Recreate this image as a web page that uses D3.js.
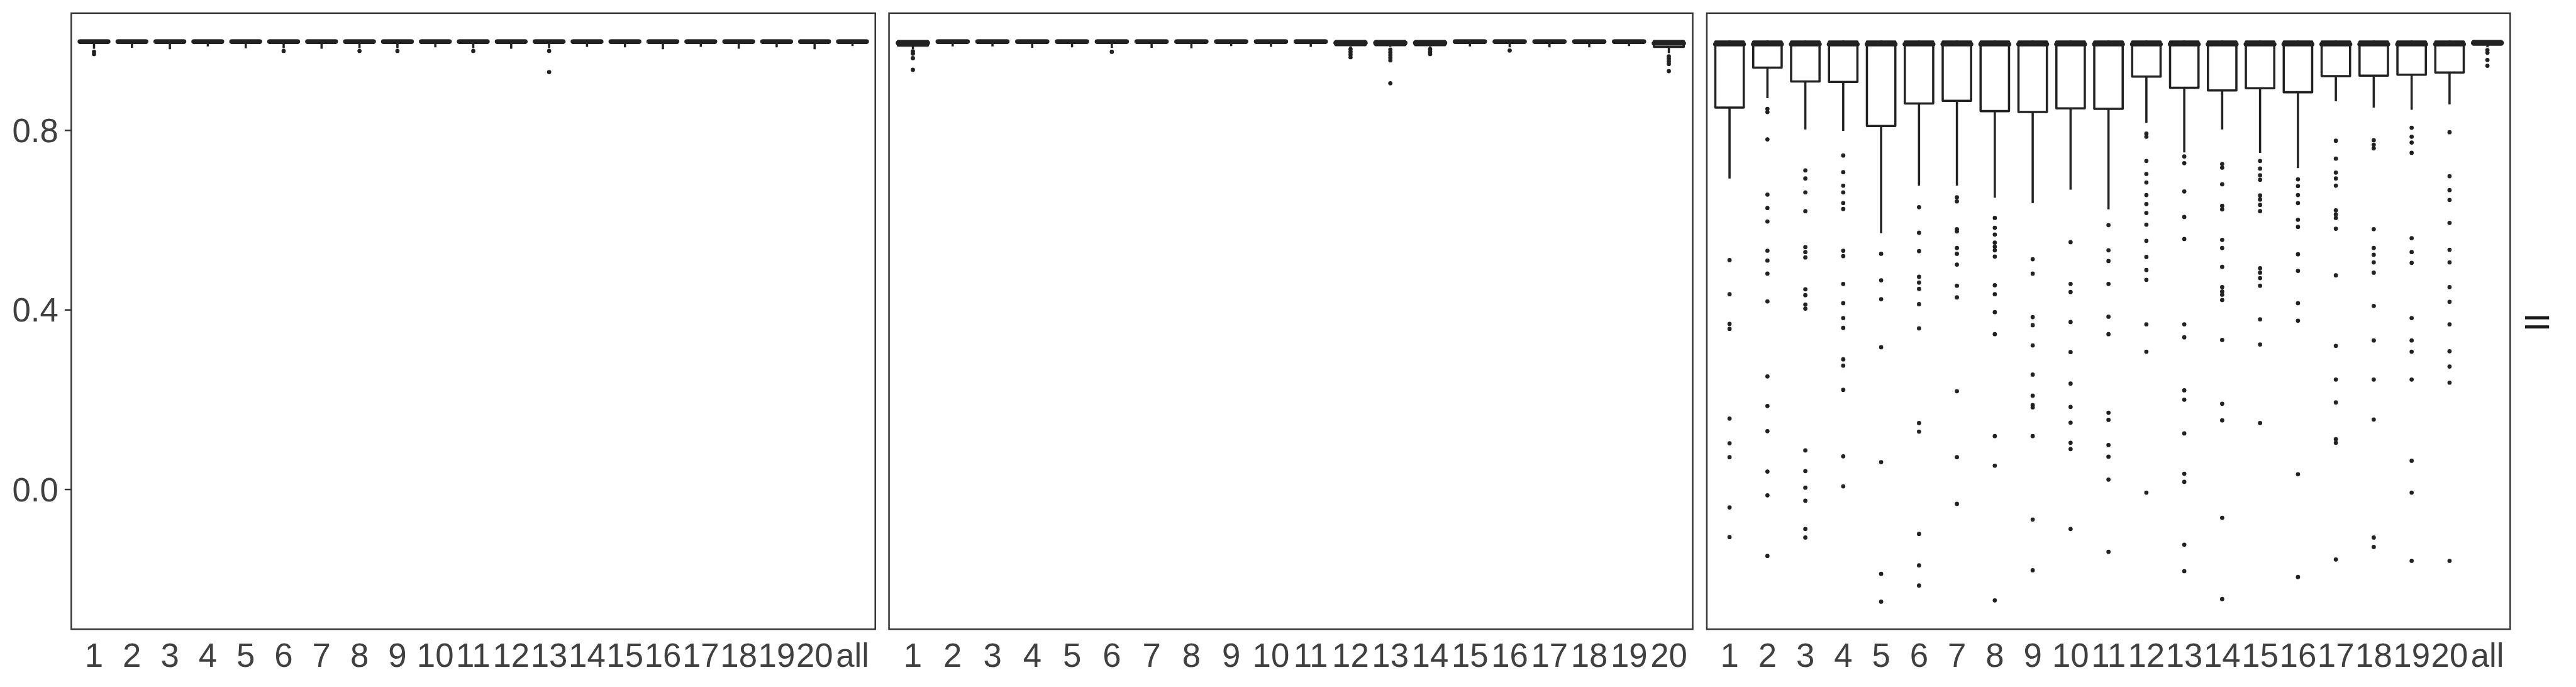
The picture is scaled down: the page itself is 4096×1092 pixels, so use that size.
<!DOCTYPE html>
<html>
<head>
<meta charset="utf-8">
<script src="https://cdn.jsdelivr.net/npm/d3@7"></script>
<style>
  html, body { margin: 0; padding: 0; background: #ffffff; }
  svg { display: block; }
</style>
</head>
<body>
<div id="chart"></div>
<script>
// ---------------- DATA ----------------
const categoriesA = ["1","2","3","4","5","6","7","8","9","10","11","12","13","14","15","16","17","18","19","20","all"];
const categoriesB = ["1","2","3","4","5","6","7","8","9","10","11","12","13","14","15","16","17","18","19","20"];
const yTicks = [0.0, 0.4, 0.8];
const yTickLabels = ["0.0", "0.4", "0.8"];

// Panel 1
const p1Q3     = [1.000,1.000,1.000,1.000,1.000,1.000,1.000,1.000,1.000,1.000,1.000,1.000,1.000,1.000,1.000,1.000,1.000,1.000,1.000,1.000,1.000];
const p1Median = [0.998,0.998,0.998,0.998,0.998,0.998,0.998,0.998,0.998,0.998,0.998,0.998,0.998,0.998,0.998,0.998,0.998,0.998,0.998,0.998,0.998];
const p1Q1     = [0.995,0.995,0.995,0.995,0.995,0.995,0.995,0.995,0.995,0.995,0.995,0.995,0.995,0.995,0.995,0.995,0.995,0.995,0.995,0.995,0.995];
const p1Lower  = [0.982,0.984,0.981,0.987,0.983,0.983,0.982,0.983,0.983,0.985,0.983,0.982,0.983,0.986,0.985,0.981,0.986,0.982,0.985,0.981,0.988];
const p1Upper  = [1.000,1.000,1.000,1.000,1.000,1.000,1.000,1.000,1.000,1.000,1.000,1.000,1.000,1.000,1.000,1.000,1.000,1.000,1.000,1.000,1.000];
const p1Outliers = [[0.975,0.970],[],[],[],[],[0.977],[],[0.977],[0.977],[],[0.977],[],[0.977,0.930],[],[],[],[],[],[],[],[]];

// Panel 2
const p2Q3     = [0.999,1.000,1.000,1.000,1.000,1.000,1.000,1.000,1.000,1.000,1.000,0.999,0.999,0.999,1.000,1.000,1.000,1.000,1.000,0.999];
const p2Median = [0.995,0.998,0.998,0.998,0.998,0.998,0.998,0.998,0.998,0.998,0.998,0.995,0.995,0.995,0.998,0.998,0.998,0.998,0.998,0.994];
const p2Q1     = [0.989,0.995,0.995,0.995,0.995,0.995,0.995,0.995,0.995,0.995,0.995,0.990,0.990,0.990,0.995,0.995,0.995,0.995,0.995,0.986];
const p2Lower  = [0.981,0.987,0.987,0.984,0.985,0.984,0.984,0.983,0.988,0.986,0.986,0.986,0.986,0.986,0.987,0.985,0.985,0.985,0.988,0.972];
const p2Upper  = [1.000,1.000,1.000,1.000,1.000,1.000,1.000,1.000,1.000,1.000,1.000,1.000,1.000,1.000,1.000,1.000,1.000,1.000,1.000,1.000];
const p2Outliers = [[0.976,0.971,0.961,0.935],[],[],[],[],[0.975],[],[],[],[],[],[0.981,0.975,0.969,0.963],[0.980,0.974,0.968,0.962,0.956,0.905],[0.981,0.975,0.970],[],[0.978],[],[],[],[0.965,0.960,0.954,0.948,0.932]];

// Panel 3
const p3Q3     = [0.998,0.998,0.998,0.998,0.998,0.998,0.998,0.998,0.998,0.998,0.998,0.998,0.998,0.998,0.998,0.998,0.998,0.998,0.998,0.998,0.999];
const p3Median = [0.992,0.992,0.992,0.992,0.992,0.992,0.992,0.992,0.992,0.992,0.992,0.992,0.992,0.992,0.992,0.992,0.992,0.992,0.992,0.992,0.995];
const p3Q1     = [0.851,0.940,0.909,0.908,0.810,0.860,0.866,0.843,0.841,0.849,0.848,0.920,0.895,0.889,0.894,0.885,0.921,0.922,0.924,0.929,0.991];
const p3Lower  = [0.693,0.872,0.802,0.799,0.571,0.677,0.677,0.650,0.638,0.668,0.624,0.817,0.751,0.802,0.750,0.716,0.865,0.851,0.846,0.858,0.985];
const p3Upper  = [1.000,1.000,1.000,1.000,1.000,1.000,1.000,1.000,1.000,1.000,1.000,1.000,1.000,1.000,1.000,1.000,1.000,1.000,1.000,1.000,1.000];
const p3Outliers = [
  [0.511,0.435,0.369,0.358,0.158,0.103,0.072,-0.040,-0.106],
  [0.848,0.841,0.780,0.657,0.627,0.597,0.532,0.510,0.481,0.419,0.252,0.186,0.130,0.040,-0.013,-0.148],
  [0.711,0.693,0.662,0.620,0.540,0.529,0.517,0.446,0.433,0.412,0.403,0.087,0.041,0.004,-0.025,-0.088,-0.107],
  [0.744,0.707,0.677,0.662,0.638,0.625,0.532,0.520,0.458,0.415,0.382,0.360,0.290,0.276,0.222,0.074,0.007],
  [0.525,0.466,0.424,0.317,0.061,-0.188,-0.250],
  [0.629,0.572,0.531,0.474,0.461,0.447,0.413,0.359,0.148,0.129,-0.099,-0.169,-0.214],
  [0.651,0.642,0.580,0.575,0.538,0.525,0.501,0.454,0.428,0.219,0.072,-0.032],
  [0.605,0.583,0.568,0.550,0.541,0.533,0.519,0.455,0.435,0.395,0.346,0.119,0.053,-0.247],
  [0.513,0.481,0.384,0.366,0.321,0.256,0.209,0.188,0.183,0.119,-0.067,-0.180],
  [0.551,0.458,0.440,0.373,0.306,0.236,0.184,0.149,0.104,0.090,-0.088],
  [0.589,0.533,0.509,0.458,0.385,0.346,0.171,0.155,0.099,0.073,0.022,-0.139],
  [0.793,0.786,0.732,0.703,0.684,0.656,0.636,0.616,0.590,0.554,0.518,0.489,0.467,0.368,0.307,-0.007],
  [0.742,0.727,0.664,0.607,0.558,0.368,0.339,0.221,0.200,0.125,0.035,0.017,-0.123,-0.182],
  [0.725,0.717,0.680,0.632,0.624,0.556,0.538,0.496,0.451,0.441,0.434,0.422,0.333,0.191,0.154,-0.063,-0.244],
  [0.732,0.715,0.700,0.690,0.655,0.646,0.634,0.620,0.493,0.483,0.471,0.454,0.379,0.323,0.148],
  [0.691,0.676,0.656,0.638,0.601,0.585,0.524,0.487,0.415,0.376,0.034,-0.195],
  [0.777,0.737,0.706,0.693,0.677,0.622,0.613,0.605,0.581,0.477,0.320,0.245,0.194,0.112,0.104,-0.156],
  [0.778,0.768,0.760,0.580,0.538,0.523,0.506,0.483,0.409,0.332,0.245,0.156,-0.107,-0.128],
  [0.806,0.786,0.773,0.750,0.560,0.529,0.505,0.382,0.332,0.307,0.245,0.064,-0.007,-0.159],
  [0.796,0.698,0.667,0.645,0.594,0.534,0.506,0.451,0.418,0.368,0.308,0.274,0.238,-0.159],
  [0.979,0.973,0.957,0.944]
];

// ---------------- LAYOUT (reference pixel space 4500x1200, scaled by viewBox) ----------------
const W = 4500, H = 1200;
const panelTop = 23, panelBottom = 1099;
const panelX = [[124.5, 1529], [1553, 2957], [2981.6, 4385]];
const fontFamily = "'Liberation Sans', Arial, Helvetica, sans-serif";
const fontSize = 58;
const textColor = "#404040";
const lineColor = "#222222";
const lw = 3.9;

const svg = d3.select("#chart").append("svg")
  .attr("width", 4096).attr("height", 1092)
  .attr("viewBox", `0 0 ${W} ${H}`)
  .attr("preserveAspectRatio", "none");

svg.append("rect").attr("width", W).attr("height", H).attr("fill", "#ffffff");

const y = d3.scaleLinear().domain([-0.3112, 1.0612]).range([panelBottom, panelTop]);

const panels = [
  { cats: categoriesA, q1: p1Q1, med: p1Median, q3: p1Q3, lo: p1Lower, hi: p1Upper, out: p1Outliers },
  { cats: categoriesB, q1: p2Q1, med: p2Median, q3: p2Q3, lo: p2Lower, hi: p2Upper, out: p2Outliers },
  { cats: categoriesA, q1: p3Q1, med: p3Median, q3: p3Q3, lo: p3Lower, hi: p3Upper, out: p3Outliers }
];

panels.forEach((p, pi) => {
  const [x0, x1] = panelX[pi];
  const x = d3.scalePoint().domain(p.cats).range([x0, x1]).padding(0.6);
  const bw = x.step() * 0.75;
  const g = svg.append("g");

  const clipId = "clip" + pi;
  svg.append("clipPath").attr("id", clipId).append("rect")
    .attr("x", x0).attr("y", panelTop).attr("width", x1 - x0).attr("height", panelBottom - panelTop);
  const inner = g.append("g").attr("clip-path", `url(#${clipId})`);

  const rows = p.cats.map((c, i) => ({ c, q1: p.q1[i], med: p.med[i], q3: p.q3[i], lo: p.lo[i], hi: p.hi[i], out: p.out[i] }));

  // outliers
  rows.forEach(r => {
    inner.selectAll(null).data(r.out).enter().append("circle")
      .attr("cx", x(r.c)).attr("cy", d => y(d)).attr("r", 3.7)
      .attr("fill", lineColor);
  });

  // whiskers
  inner.selectAll(".wlo").data(rows).enter().append("line")
    .attr("x1", d => x(d.c)).attr("x2", d => x(d.c))
    .attr("y1", d => y(d.q1)).attr("y2", d => y(d.lo))
    .attr("stroke", lineColor).attr("stroke-width", lw);
  inner.selectAll(".whi").data(rows).enter().append("line")
    .attr("x1", d => x(d.c)).attr("x2", d => x(d.c))
    .attr("y1", d => y(d.q3)).attr("y2", d => y(d.hi))
    .attr("stroke", lineColor).attr("stroke-width", lw);

  // boxes
  inner.selectAll(".box").data(rows).enter().append("rect")
    .attr("x", d => x(d.c) - bw / 2).attr("width", bw)
    .attr("y", d => y(d.q3)).attr("height", d => Math.max(0, y(d.q1) - y(d.q3)))
    .attr("fill", "#ffffff").attr("stroke", lineColor).attr("stroke-width", lw)
    .attr("stroke-linejoin", "round");

  // medians
  inner.selectAll(".med").data(rows).enter().append("line")
    .attr("x1", d => x(d.c) - bw / 2).attr("x2", d => x(d.c) + bw / 2)
    .attr("y1", d => y(d.med)).attr("y2", d => y(d.med))
    .attr("stroke", lineColor).attr("stroke-width", lw * 2).attr("stroke-linecap", "round");

  // panel border
  g.append("rect").attr("x", x0).attr("y", panelTop)
    .attr("width", x1 - x0).attr("height", panelBottom - panelTop)
    .attr("fill", "none").attr("stroke", "#333333").attr("stroke-width", 2.7);

  // x labels
  g.selectAll(".xl").data(p.cats).enter().append("text")
    .attr("x", d => x(d)).attr("y", 1165)
    .attr("text-anchor", "middle")
    .attr("font-family", fontFamily).attr("font-size", fontSize)
    .attr("fill", textColor)
    .text(d => d);
});

// y axis (left panel only)
const yAxisG = svg.append("g");
yAxisG.selectAll(".yt").data(yTicks).enter().append("line")
  .attr("x1", 113).attr("x2", panelX[0][0])
  .attr("y1", d => y(d)).attr("y2", d => y(d))
  .attr("stroke", "#333333").attr("stroke-width", 2.7);
yAxisG.selectAll(".yl").data(yTicks).enter().append("text")
  .attr("x", 102).attr("y", d => y(d)).attr("dy", "0.35em")
  .attr("text-anchor", "end")
  .attr("font-family", fontFamily).attr("font-size", fontSize)
  .attr("fill", textColor)
  .text((d, i) => yTickLabels[i]);

// legend key ("=" glyph of two bars)
const legend = svg.append("g");
legend.append("rect").attr("x", 4411).attr("y", 552.3).attr("width", 42).attr("height", 5.5).attr("fill", "#1a1a1a");
legend.append("rect").attr("x", 4411).attr("y", 568.3).attr("width", 42).attr("height", 5.5).attr("fill", "#1a1a1a");
</script>
</body>
</html>
